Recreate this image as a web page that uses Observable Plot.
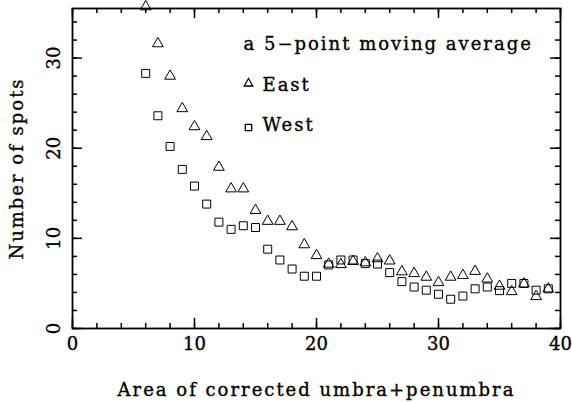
<!DOCTYPE html>
<html><head><meta charset="utf-8">
<script src="https://cdn.jsdelivr.net/npm/d3@7"></script>
<script src="https://cdn.jsdelivr.net/npm/@observablehq/plot@0.6"></script>
<style>
body{margin:0;background:#fff}
#chart svg text{letter-spacing:2px;stroke:black;stroke-width:0.35px}
#chart svg g[aria-label$="tick label"] text{letter-spacing:0}
</style>
</head><body><div id="chart"></div>
<script>
const area = [6,7,8,9,10,11,12,13,14,15,16,17,18,19,20,21,22,23,24,25,26,27,28,29,30,31,32,33,34,35,36,37,38,39];
const east = [35.7,31.6,28.0,24.4,22.4,21.3,17.9,15.5,15.5,13.1,11.9,11.9,11.3,9.3,8.1,7.15,7.1,7.45,7.3,7.75,7.5,6.3,6.1,5.7,5.1,5.7,5.9,6.35,5.5,4.7,4.1,4.95,3.55,4.4];
const west = [28.3,23.6,20.2,17.65,15.8,13.8,11.8,11.0,11.4,11.2,8.8,7.6,6.6,5.8,5.8,7.05,7.6,7.6,7.2,7.15,6.2,5.2,4.6,4.25,3.8,3.25,3.6,4.4,4.6,4.2,5.0,5.0,4.25,4.4];
const xMajor = [0,10,20,30,40];
const xMinor = [0,2,4,6,8,10,12,14,16,18,20,22,24,26,28,30,32,34,36,38,40];
const yMajor = [0,10,20,30];
const yMinor = [0,2,4,6,8,10,12,14,16,18,20,22,24,26,28,30,32,34];
const legendTitle = ["a 5\u2212point moving average"];
const seriesNames = ["East","West"];

const W = 572, H = 402, mL = 72, mR = 12, mT = 8, mB = 74;
const iw = W - mL - mR, ih = H - mT - mB;
const tk = {stroke: "black", strokeWidth: 1.5};

const chart = Plot.plot({
  width: W, height: H,
  marginLeft: mL, marginRight: mR, marginTop: mT, marginBottom: mB,
  style: {fontFamily: "DejaVu Serif", fontSize: "18px", background: "white", color: "black", overflow: "visible"},
  x: {domain: [0, 40]},
  y: {domain: [0, 35.5]},
  marks: [
    Plot.tickX(xMinor, {x: d => d, insetTop: ih - 5, ...tk}),
    Plot.tickX(xMajor, {x: d => d, insetTop: ih - 10, ...tk}),
    Plot.tickX(xMinor, {x: d => d, insetBottom: ih - 5, ...tk}),
    Plot.tickX(xMajor, {x: d => d, insetBottom: ih - 10, ...tk}),
    Plot.tickY(yMinor, {y: d => d, insetRight: iw - 5, ...tk}),
    Plot.tickY(yMajor, {y: d => d, insetRight: iw - 10, ...tk}),
    Plot.tickY(yMinor, {y: d => d, insetLeft: iw - 5, ...tk}),
    Plot.tickY(yMajor, {y: d => d, insetLeft: iw - 10, ...tk}),
    Plot.axisX({ticks: xMajor, tickSize: 0, tickPadding: 9, tickFormat: d => d,
      label: "Area of corrected umbra+penumbra", labelAnchor: "center", labelArrow: "none", labelOffset: 67}),
    Plot.axisY({ticks: yMajor, tickSize: 0, tickRotate: -90, tickPadding: 13, tickFormat: d => d,
      label: "Number of spots", labelAnchor: "center", labelArrow: "none", labelOffset: 62}),
    Plot.dot(area, {x: area, y: east, symbol: "triangle", r: 4, stroke: "black", strokeWidth: 1, fill: "none"}),
    Plot.dot(area, {x: area, y: west, symbol: "square", r: 4.5, stroke: "black", strokeWidth: 1, fill: "none"}),
    Plot.frame({stroke: "black", strokeWidth: 1.8}),
    Plot.text(legendTitle, {text: d => d, frameAnchor: "top-left", dx: 171, dy: 36, textAnchor: "start", lineAnchor: "middle", fill: "black"}),
    Plot.dot([seriesNames[0]], {frameAnchor: "top-left", dx: 176, dy: 75, symbol: "triangle", r: 3.2, stroke: "black", strokeWidth: 1.3, fill: "none"}),
    Plot.text([seriesNames[0]], {text: d => d, frameAnchor: "top-left", dx: 190, dy: 77, textAnchor: "start", lineAnchor: "middle", fill: "black"}),
    Plot.dot([seriesNames[1]], {frameAnchor: "top-left", dx: 176, dy: 119, symbol: "square", r: 3.6, stroke: "black", strokeWidth: 1.3, fill: "none"}),
    Plot.text([seriesNames[1]], {text: d => d, frameAnchor: "top-left", dx: 190, dy: 117, textAnchor: "start", lineAnchor: "middle", fill: "black"})
  ]
});
document.getElementById("chart").appendChild(chart);
</script>
</body></html>
